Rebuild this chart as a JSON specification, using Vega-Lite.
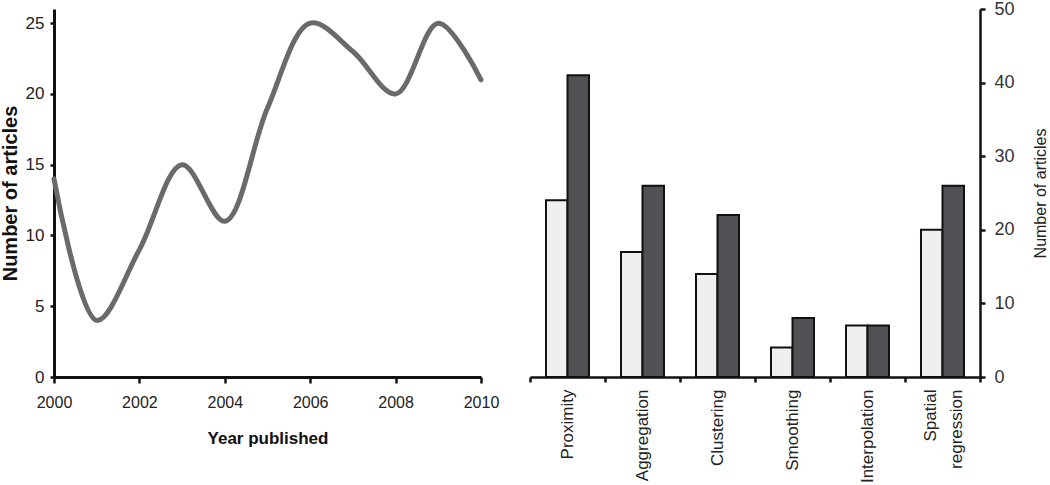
{
  "$schema": "https://vega.github.io/schema/vega-lite/v6.json",
  "padding": {"left": 0, "top": 0, "right": 0, "bottom": 0},
  "background": "white",
  "bounds": "flush",
  "spacing": 49,
  "config": {
    "view": {"stroke": null},
    "axis": {"grid": false, "domainColor": "#111", "tickColor": "#111"}
  },
  "datasets": {
    "years": [
      {"year": 2000, "articles": 14},
      {"year": 2001, "articles": 4},
      {"year": 2002, "articles": 9},
      {"year": 2003, "articles": 15},
      {"year": 2004, "articles": 11},
      {"year": 2005, "articles": 19},
      {"year": 2006, "articles": 25},
      {"year": 2007, "articles": 23},
      {"year": 2008, "articles": 20},
      {"year": 2009, "articles": 25},
      {"year": 2010, "articles": 21}
    ],
    "methods": [
      {"method": "Proximity", "group": "A", "articles": 24},
      {"method": "Proximity", "group": "B", "articles": 41},
      {"method": "Aggregation", "group": "A", "articles": 17},
      {"method": "Aggregation", "group": "B", "articles": 26},
      {"method": "Clustering", "group": "A", "articles": 14},
      {"method": "Clustering", "group": "B", "articles": 22},
      {"method": "Smoothing", "group": "A", "articles": 4},
      {"method": "Smoothing", "group": "B", "articles": 8},
      {"method": "Interpolation", "group": "A", "articles": 7},
      {"method": "Interpolation", "group": "B", "articles": 7},
      {"method": "Spatial regression", "group": "A", "articles": 20},
      {"method": "Spatial regression", "group": "B", "articles": 26}
    ]
  },
  "hconcat": [
    {
      "width": 427,
      "height": 368,
      "data": {"name": "years"},
      "mark": {"type": "line", "interpolate": "catmull-rom", "strokeWidth": 5, "color": "#6a6a6a", "strokeCap": "round"},
      "encoding": {
        "x": {
          "field": "year", "type": "quantitative",
          "scale": {"domain": [2000, 2010], "nice": false, "zero": false},
          "axis": {
            "values": [2000, 2002, 2004, 2006, 2008, 2010], "format": "d",
            "labelFlush": false, "labelFont": "Liberation Sans", "labelFontSize": 16, "labelColor": "#222",
            "labelPadding": 11, "tickSize": 6, "tickWidth": 2.5, "domainWidth": 3,
            "title": "Year published", "titleFont": "Liberation Sans", "titleFontSize": 17,
            "titleFontWeight": "bold", "titleColor": "#111", "titlePadding": 20
          }
        },
        "y": {
          "field": "articles", "type": "quantitative",
          "scale": {"domain": [0, 26], "nice": false},
          "axis": {
            "values": [0, 5, 10, 15, 20, 25],
            "labelFont": "Liberation Sans", "labelFontSize": 17, "labelColor": "#222",
            "labelPadding": 6, "tickSize": 4, "tickWidth": 2.5, "domainWidth": 3,
            "title": "Number of articles", "titleFont": "Liberation Sans", "titleFontSize": 20,
            "titleFontWeight": "bold", "titleColor": "#111", "titlePadding": 5
          }
        }
      }
    },
    {
      "width": 450,
      "height": 368,
      "data": {"name": "methods"},
      "mark": {"type": "bar", "stroke": "#111", "strokeWidth": 2},
      "encoding": {
        "x": {
          "field": "method", "type": "nominal", "sort": null,
          "scale": {"paddingInner": 0, "paddingOuter": 0},
          "axis": {
            "title": null, "labelAngle": -90, "tickBand": "extent",
            "labelExpr": "split(datum.label, ' ')", "labelLineHeight": 26,
            "labelOffset": {"condition": {"test": "datum.value == 'Spatial regression'", "value": -12}, "value": 0},
            "labelFont": "Liberation Sans", "labelFontSize": 17, "labelColor": "#222",
            "labelPadding": 7, "tickSize": 5, "tickWidth": 2.5, "domainWidth": 2.5
          }
        },
        "xOffset": {
          "field": "group", "type": "nominal",
          "scale": {"paddingInner": 0, "paddingOuter": 0.744}
        },
        "y": {
          "field": "articles", "type": "quantitative",
          "scale": {"domain": [0, 50], "nice": false},
          "axis": {
            "orient": "right", "values": [0, 10, 20, 30, 40, 50],
            "labelFont": "Liberation Sans", "labelFontSize": 18, "labelColor": "#333",
            "labelPadding": 9, "tickSize": 5, "tickWidth": 2.5, "domainWidth": 2.5,
            "title": "Number of articles", "titleFont": "Liberation Sans", "titleFontSize": 16,
            "titleFontWeight": "normal", "titleColor": "#222", "titleAngle": 270, "titleBaseline": "top",
            "titlePadding": 18
          }
        },
        "fill": {
          "field": "group", "type": "nominal",
          "scale": {"domain": ["A", "B"], "range": ["#efefef", "#505154"]},
          "legend": null
        }
      }
    }
  ]
}
